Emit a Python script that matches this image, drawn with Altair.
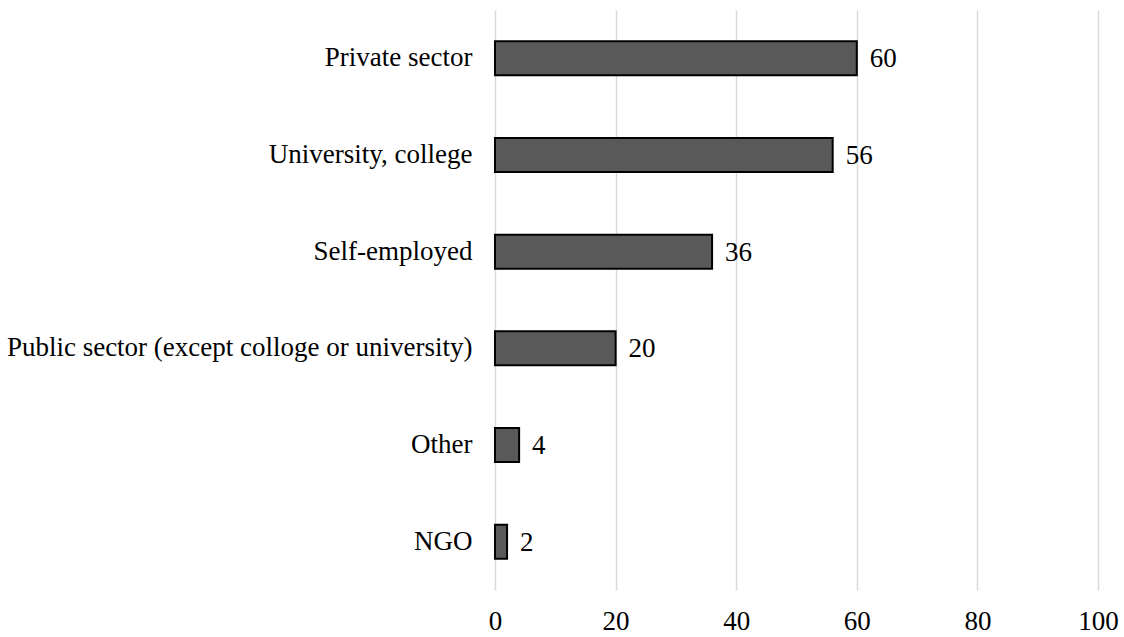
import altair as alt
import pandas as pd

categories = ["Private sector", "University, college", "Self-employed",
              "Public sector (except colloge or university)", "Other", "NGO"]
values = [60, 56, 36, 20, 4, 2]

df = pd.DataFrame({"category": categories, "value": values})

FONT = "Liberation Serif"
FS = 27

base = alt.Chart(df).encode(
    y=alt.Y("category:N", sort=categories, title=None,
            axis=alt.Axis(domain=False, ticks=False, labelFont=FONT, labelFontSize=FS,
                          labelColor="#000000", labelPadding=23, labelLimit=600)),
    x=alt.X("value:Q", title=None, scale=alt.Scale(domain=[0, 100], nice=False),
            axis=alt.Axis(values=[0, 20, 40, 60, 80, 100], domain=False, ticks=False,
                          labelFont=FONT, labelFontSize=FS, labelColor="#000000",
                          labelFlush=False, labelPadding=18,
                          gridColor="#d9d9d9", gridWidth=1.5)),
)

bars = base.mark_bar(color="#595959", stroke="#000000", strokeWidth=2, size=34)
text = base.mark_text(align="left", baseline="middle", dx=13, dy=1, font=FONT, fontSize=FS,
                      color="#000000").encode(text="value:Q")

chart = (bars + text).properties(
    width=603, height=580,
    autosize=alt.AutoSizeParams(type="none"),
    padding={"left": 495, "top": 10, "right": 26, "bottom": 47},
).configure(background="#ffffff").configure_view(stroke=None)

chart.save("out.html", embed_options={"renderer": "svg", "actions": False})
